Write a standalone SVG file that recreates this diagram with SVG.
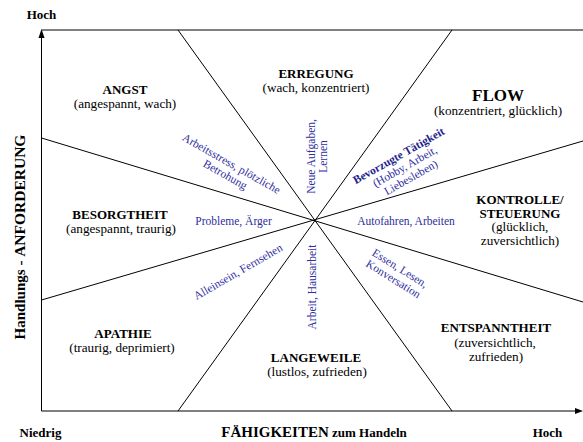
<svg xmlns="http://www.w3.org/2000/svg" width="583" height="442" viewBox="0 0 583 442">
<style>
text{font-family:"Liberation Serif","Times New Roman",serif;fill:#000;text-anchor:middle}
.h{font-weight:bold;font-size:13px}
.s{font-size:13.2px}
.ax{font-weight:bold;font-size:13px}
.bl{fill:#2e2ea0;font-size:11.5px}
.bb{fill:#1e1e8c;font-size:11.5px;font-weight:bold}
.ln{stroke:#000;stroke-width:1;fill:none}
</style>
<rect width="583" height="442" fill="#fff"/>
<g id="connectors">
<line class="ln" x1="41.5" y1="30" x2="583" y2="30"/>
<line class="ln" x1="41.5" y1="411" x2="41.5" y2="37"/>
<polygon points="41.5,29 38.5,38 44.5,38" fill="#000"/>
<line class="ln" x1="41.5" y1="411" x2="576" y2="411"/>
<polygon points="583,411 575,408 575,414" fill="#000"/>
<line class="ln" x1="178" y1="30" x2="452" y2="411"/>
<line class="ln" x1="452" y1="30" x2="178" y2="411"/>
<line class="ln" x1="41.5" y1="138" x2="583" y2="302"/>
<line class="ln" x1="41.5" y1="300" x2="583" y2="141"/>
</g>
<g id="axis-labels">
<text class="ax" x="41.5" y="19">Hoch</text>
<text class="ax" x="40.5" y="437">Niedrig</text>
<text class="ax" x="547.5" y="437">Hoch</text>
<text x="314" y="437" style="font-weight:bold"><tspan font-size="15px">FÄHIGKEITEN</tspan><tspan font-size="13px"> zum Handeln</tspan></text>
<text transform="translate(25,237) rotate(-90)" style="font-weight:bold"><tspan font-size="15px">Handlungs - </tspan><tspan font-size="15.5px">ANFORDERUNG</tspan></text>
</g>
<g id="angst"><text class="h" x="125" y="93.5">ANGST</text><text class="s" x="125" y="107.5">(angespannt, wach)</text></g>
<g id="erregung"><text class="h" x="316" y="78">ERREGUNG</text><text class="s" x="316" y="92">(wach, konzentriert)</text></g>
<g id="flow"><text x="498" y="100.5" style="font-weight:bold;font-size:17px">FLOW</text><text class="s" x="498" y="115">(konzentriert, glücklich)</text></g>
<g id="besorgtheit"><text class="h" x="120" y="219">BESORGTHEIT</text><text class="s" x="121" y="233">(angespannt, traurig)</text></g>
<g id="kontrolle"><text class="h" x="520" y="204">KONTROLLE/</text><text class="h" x="520" y="217.5">STEUERUNG</text><text class="s" x="520" y="231">(glücklich,</text><text class="s" x="520" y="244.5">zuversichtlich)</text></g>
<g id="apathie"><text class="h" x="123" y="337.5">APATHIE</text><text class="s" x="122" y="351.5">(traurig, deprimiert)</text></g>
<g id="langeweile"><text class="h" x="316" y="362">LANGEWEILE</text><text class="s" x="317" y="375.5">(lustlos, zufrieden)</text></g>
<g id="entspanntheit"><text class="h" x="496" y="332">ENTSPANNTHEIT</text><text class="s" x="495" y="347">(zuversichtlich,</text><text class="s" x="496" y="361">zufrieden)</text></g>
<g id="arbeitsstress"><text class="bl" transform="translate(229.5,167) rotate(29.5)"><tspan x="0" y="0">Arbeitsstress, plötzliche</tspan><tspan x="0" y="12.5">Betrohung</tspan></text></g>
<g id="neue-aufgaben"><text class="bl" transform="translate(315,156.5) rotate(-90)"><tspan x="0" y="0">Neue Aufgaben,</tspan><tspan x="0" y="12">Lernen</tspan></text></g>
<g id="bevorzugte"><text transform="translate(400.5,159) rotate(-29.5)"><tspan class="bb" x="0" y="0">Bevorzugte Tätigkeit</tspan><tspan class="bl" x="0" y="12.5">(Hobby, Arbeit,</tspan><tspan class="bl" x="0" y="25">Liebesleben)</tspan></text></g>
<g id="probleme"><text class="bl" x="233.5" y="225">Probleme, Ärger</text></g>
<g id="autofahren"><text class="bl" x="406" y="225">Autofahren, Arbeiten</text></g>
<g id="alleinsein"><text class="bl" transform="translate(240,275) rotate(-30)">Alleinsein, Fernsehen</text></g>
<g id="arbeit"><text class="bl" transform="translate(316,287) rotate(-90)">Arbeit, Hausarbeit</text></g>
<g id="essen"><text class="bl" transform="translate(398,271.5) rotate(32)"><tspan x="0" y="0">Essen, Lesen,</tspan><tspan x="0" y="12.5">Konversation</tspan></text></g>
</svg>
